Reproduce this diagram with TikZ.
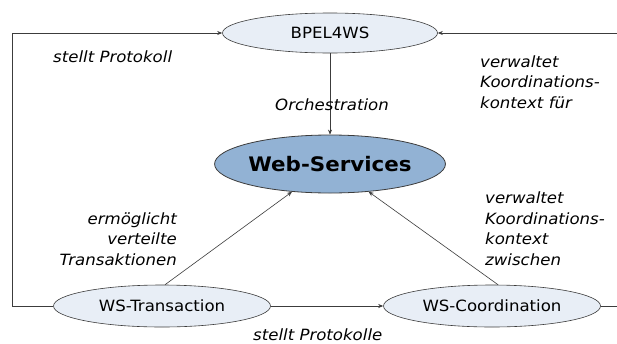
\documentclass[tikz,border=0pt]{standalone}
\usepackage{fontspec}
\setmainfont{DejaVu Sans}[FakeStretch=1.07]
\usetikzlibrary{shapes.geometric,arrows.meta}
\definecolor{lightfill}{RGB}{232,238,246}
\definecolor{corefill}{RGB}{146,178,212}
\definecolor{edgegray}{RGB}{60,60,60}
\begin{document}
\begin{tikzpicture}[x=1pt,y=-1pt,
  svc/.style={ellipse,draw=edgegray,line width=0.6pt,fill=lightfill,
    inner sep=0pt,font=\fontsize{15.5}{18}\selectfont},
  core/.style={ellipse,draw=edgegray,line width=0.8pt,fill=corefill,
    inner sep=0pt,font=\fontsize{20}{24}\selectfont\bfseries},
  conn/.style={draw=edgegray,line width=0.6pt},
  arr/.style={conn,-{Stealth[length=5pt,width=4pt]}},
  lbl/.style={font=\fontsize{15.5}{20.5}\selectfont\itshape,inner sep=0pt}]
\useasboundingbox (0,0) rectangle (617,343);
\clip (0,0) rectangle (617,343);
\fill[white] (0,0) rectangle (617,343);

% service nodes
\node[svc,minimum width=215pt,minimum height=40pt] (bpel) at (330,33) {BPEL4WS};
\node[core,minimum width=230pt,minimum height=58pt] (ws) at (330,164) {Web-Services};
\node[svc,minimum width=217pt,minimum height=42pt] (tx) at (162,306) {WS-Transaction};
\node[svc,minimum width=217pt,minimum height=42pt] (co) at (492,306) {WS-Coordination};

% corners of the two feedback loops
\coordinate (ll) at (12,306);
\coordinate (lt) at (12,33);
\coordinate (rr) at (630,306);
\coordinate (rt) at (630,33);

% connectors
\draw[arr] (bpel.south) -- (ws.north);
\draw[arr] ([xshift=3pt]tx.north) -- (ws);
\draw[arr] ([xshift=6pt]co.north) -- (ws);
\draw[arr] (tx.east) -- (co.west);
\draw[arr] (tx.west) -- (ll) -- (lt) -- (bpel.west);
\draw[arr] (co.east) -- (rr) -- (rt) -- (bpel.east);

% labels (base anchor of a multi-line label sits on its last line)
\node[lbl,anchor=base west] (l1) at (53,62) {stellt Protokoll};
\node[lbl,anchor=base west] (l2) at (275,110) {Orchestration};
\node[lbl,anchor=base west,align=left] (l3) at (480,108) {verwaltet\\Koordinations-\\kontext für};
\node[lbl,anchor=base east,align=right] (l4) at (177,265) {ermöglicht\\verteilte\\Transaktionen};
\node[lbl,anchor=base west,align=left] (l5) at (485,265) {verwaltet\\Koordinations-\\kontext\\zwischen};
\node[lbl,anchor=base west] (l6) at (253,340) {stellt Protokolle};
\end{tikzpicture}
\end{document}
